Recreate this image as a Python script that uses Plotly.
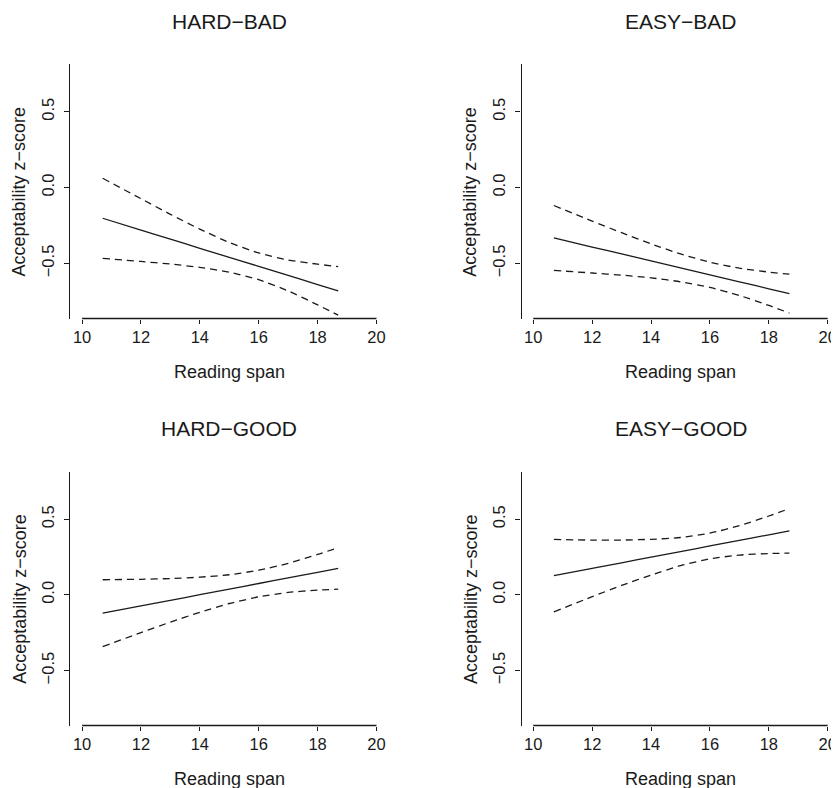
import plotly.graph_objects as go

# ---- data ----
span = [10.7, 12, 13, 14, 15, 16, 17, 18, 18.7]

hard_bad_fit = [-0.202, -0.280, -0.340, -0.400, -0.460, -0.519, -0.579, -0.639, -0.681]
hard_bad_upper = [0.062, -0.073, -0.176, -0.274, -0.362, -0.431, -0.477, -0.505, -0.521]
hard_bad_lower = [-0.466, -0.487, -0.504, -0.526, -0.558, -0.607, -0.681, -0.773, -0.841]

easy_bad_fit = [-0.332, -0.392, -0.437, -0.483, -0.529, -0.575, -0.621, -0.667, -0.699]
easy_bad_upper = [-0.118, -0.221, -0.297, -0.371, -0.437, -0.492, -0.531, -0.557, -0.571]
easy_bad_lower = [-0.546, -0.563, -0.577, -0.595, -0.621, -0.658, -0.711, -0.777, -0.827]

hard_good_fit = [-0.121, -0.073, -0.036, 0.001, 0.038, 0.075, 0.112, 0.149, 0.175]
hard_good_upper = [0.100, 0.103, 0.108, 0.117, 0.133, 0.163, 0.208, 0.267, 0.312]
hard_good_lower = [-0.342, -0.249, -0.180, -0.115, -0.057, -0.013, 0.016, 0.031, 0.038]

easy_good_fit = [0.127, 0.175, 0.212, 0.249, 0.286, 0.323, 0.360, 0.397, 0.423]
easy_good_upper = [0.366, 0.362, 0.362, 0.367, 0.379, 0.408, 0.457, 0.521, 0.570]
easy_good_lower = [-0.112, -0.012, 0.062, 0.131, 0.193, 0.238, 0.263, 0.273, 0.276]

panel_titles = ["HARD\u2212BAD", "EASY\u2212BAD", "HARD\u2212GOOD", "EASY\u2212GOOD"]
x_ticks = [10, 12, 14, 16, 18, 20]
y_ticks = [-0.5, 0.0, 0.5]
y_tick_text = ["\u22120.5", "0.0", "0.5"]
x_label = "Reading span"
y_label = "Acceptability z\u2212score"

panels = [
    (hard_bad_fit, hard_bad_upper, hard_bad_lower),
    (easy_bad_fit, easy_bad_upper, easy_bad_lower),
    (hard_good_fit, hard_good_upper, hard_good_lower),
    (easy_good_fit, easy_good_upper, easy_good_lower),
]

# ---- layout geometry (pixels in the 839x788 window) ----
# the page body has an 8px margin, so the figure starts at (8, 8)
OFF = 8
WIN_W, WIN_H = 839, 788
W, H = WIN_W - OFF, WIN_H - OFF
FONT = "Liberation Sans, Arial, Helvetica, sans-serif"
INK = "#1a1a1a"
# plot regions in window px: (left, right, top, bottom)
regions = [
    (70.3, 388.5, 64.0, 318.5),
    (521.5, 839.0, 64.0, 318.5),
    (70.3, 388.5, 471.5, 725.5),
    (521.5, 839.0, 471.5, 725.5),
]
XMIN = 9.6
PX_PER_X = 29.44
Y_RANGE = [-0.863, 0.815]


def px(v):
    return (v - OFF) / W


def py(v):
    return 1 - (v - OFF) / H


fig = go.Figure()
layout_axes = {}
annotations = []
shapes = []

for i, ((fit, up, lo), (l, r, t, b)) in enumerate(zip(panels, regions)):
    n = i + 1
    xa = "x" if n == 1 else f"x{n}"
    ya = "y" if n == 1 else f"y{n}"
    xmax = XMIN + (min(r, WIN_W) - l) / PX_PER_X

    for ys, dash in ((up, "7px,5px"), (lo, "7px,5px"), (fit, "solid")):
        fig.add_trace(go.Scatter(
            x=span, y=ys, mode="lines", xaxis=xa, yaxis=ya,
            line=dict(color=INK, width=1.3, dash=dash, shape="spline", smoothing=0.6),
            showlegend=False, hoverinfo="skip",
        ))

    layout_axes[f"xaxis{'' if n == 1 else n}"] = dict(
        domain=[px(l), min(px(r), 1.0)], range=[XMIN, xmax], anchor=ya,
        tickvals=x_ticks, ticks="outside", ticklen=4, tickwidth=1.2, tickcolor=INK,
        showline=False, showgrid=False, zeroline=False,
        tickfont=dict(family=FONT, size=16.5, color=INK),
        ticklabelstandoff=0,
    )
    layout_axes[f"yaxis{'' if n == 1 else n}"] = dict(
        domain=[py(b), py(t)], range=Y_RANGE, anchor=xa,
        tickvals=y_ticks, ticktext=y_tick_text, ticks="outside", ticklen=5,
        tickwidth=1.2, tickcolor=INK, tickangle=-90,
        showline=True, linecolor=INK, linewidth=1.3,
        showgrid=False, zeroline=False,
        tickfont=dict(family=FONT, size=16.5, color=INK),
        ticklabelstandoff=4,
    )
    # x axis line only between first and last tick (R style)
    shapes.append(dict(type="line", xref=xa, yref=f"{ya} domain",
                       x0=10, x1=20, y0=0, y1=0,
                       line=dict(color=INK, width=1.3)))
    cx = (l + r) / 2 if n in (1, 3) else (l + 839.5) / 2
    annotations.append(dict(text=panel_titles[i], xref="paper", yref="paper",
                            x=px(cx), y=py(t - 43), xanchor="center", yanchor="middle",
                            showarrow=False, font=dict(family=FONT, size=21, color=INK)))
    annotations.append(dict(text=x_label, xref="paper", yref="paper",
                            x=px(cx), y=py(b + 53.5), xanchor="center", yanchor="middle",
                            showarrow=False, font=dict(family=FONT, size=18, color=INK)))
    annotations.append(dict(text=y_label, xref="paper", yref="paper",
                            x=px(l - 51), y=py((t + b) / 2), xanchor="center",
                            yanchor="middle", textangle=-90,
                            showarrow=False, font=dict(family=FONT, size=18, color=INK)))

fig.update_layout(
    width=W, height=H, margin=dict(l=0, r=0, t=0, b=0),
    paper_bgcolor="white", plot_bgcolor="white",
    annotations=annotations, shapes=shapes, **layout_axes,
)

fig.write_html("out.html")
